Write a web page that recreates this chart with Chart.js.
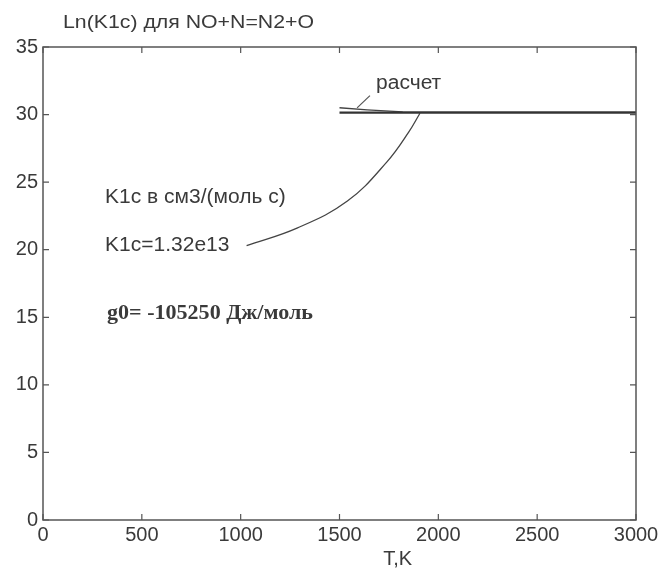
<!DOCTYPE html>
<html>
<head>
<meta charset="utf-8">
<script src="https://cdn.jsdelivr.net/npm/chart.js@4"></script>
<style>
  html, body { margin: 0; padding: 0; background: #fff; }
  #wrap { width: 663px; height: 569px; }
</style>
</head>
<body>
<div id="wrap"><canvas id="main-chart" width="663" height="569"></canvas></div>
<script>
(function () {
  "use strict";

  // axis ticks
  const xTicks = [0, 500, 1000, 1500, 2000, 2500, 3000];
  const yTicks = [0, 5, 10, 15, 20, 25, 30, 35];

  // Ln(K1c) constant level, fitted
  const fitT = [1500, 3000];
  const fitLn = [30.15, 30.15];

  // "расчет" curve (starts a bit higher, merges into the level)
  const calcT = [1500, 1640, 1820, 2200, 3000];
  const calcLn = [30.5, 30.35, 30.2, 30.17, 30.17];

  // pointer lines for the labels
  const ptrCalcT = [1589, 1654];
  const ptrCalcLn = [30.5, 31.4];
  const ptrK1cT = [1030, 1285, 1540, 1740, 1850, 1907];
  const ptrK1cLn = [20.3, 21.6, 23.6, 26.5, 28.7, 30.1];

  const SANS = "'Liberation Sans', Arial, sans-serif";

  // text labels placed in data coordinates
  const notes = [
    { t: 1685, v: 32.3, text: "расчет", font: "20px " + SANS },
    { t: 314, v: 23.9, text: "K1c в см3/(моль с)", font: "20px " + SANS },
    { t: 314, v: 20.3, text: "K1c=1.32e13", font: "20px " + SANS },
    { t: 324, v: 15.3, text: "g0= -105250 Дж/моль", font: "bold 21px 'Liberation Serif', 'Times New Roman', serif" },
  ];

  function pts(xs, ys) {
    return xs.map(function (x, i) {
      return { x: x, y: ys[i] };
    });
  }

  const INK = "#3a3a3a";

  // draw stretched text (reference glyphs are wider than normal)
  function wideText(ctx, text, x, y, sx) {
    ctx.save();
    ctx.translate(x, y);
    ctx.scale(sx, 1);
    ctx.fillText(text, 0, 0);
    ctx.restore();
  }

  const boxPlugin = {
    id: "box",
    afterDraw: function (c) {
      const ctx = c.ctx;
      const a = c.chartArea;
      const xs = c.scales.x;
      const ys = c.scales.y;
      ctx.save();
      ctx.strokeStyle = "#555";
      ctx.lineWidth = 1.5;
      ctx.strokeRect(a.left, a.top, a.right - a.left, a.bottom - a.top);
      ctx.lineWidth = 1.2;
      ctx.beginPath();
      xTicks.forEach(function (t) {
        const px = xs.getPixelForValue(t);
        ctx.moveTo(px, a.bottom);
        ctx.lineTo(px, a.bottom - 6);
        ctx.moveTo(px, a.top);
        ctx.lineTo(px, a.top + 6);
      });
      yTicks.forEach(function (t) {
        const py = ys.getPixelForValue(t);
        ctx.moveTo(a.left, py);
        ctx.lineTo(a.left + 6, py);
        ctx.moveTo(a.right, py);
        ctx.lineTo(a.right - 6, py);
      });
      ctx.stroke();

      // annotations
      ctx.fillStyle = INK;
      ctx.textBaseline = "middle";
      ctx.textAlign = "left";
      notes.forEach(function (n) {
        ctx.font = n.font;
        wideText(ctx, n.text, xs.getPixelForValue(n.t), ys.getPixelForValue(n.v), 1.05);
      });

      // title and x-axis label
      ctx.font = "19px " + SANS;
      wideText(ctx, "Ln(K1c) для NO+N=N2+O", 63, 23, 1.12);
      ctx.textAlign = "center";
      ctx.font = "20px " + SANS;
      ctx.fillText("T,K", xs.getPixelForValue(1794), 559);
      ctx.restore();
    },
  };

  const ctx = document.getElementById("main-chart").getContext("2d");
  new Chart(ctx, {
    type: "line",
    data: {
      datasets: [
        {
          label: "fit",
          data: pts(fitT, fitLn),
          borderColor: "#333",
          borderWidth: 2.2,
          pointRadius: 0,
        },
        {
          label: "расчет",
          data: pts(calcT, calcLn),
          borderColor: "#444",
          borderWidth: 1.4,
          pointRadius: 0,
        },
        {
          label: "ptr1",
          data: pts(ptrCalcT, ptrCalcLn),
          borderColor: "#555",
          borderWidth: 1.2,
          pointRadius: 0,
        },
        {
          label: "ptr2",
          data: pts(ptrK1cT, ptrK1cLn),
          borderColor: "#444",
          borderWidth: 1.3,
          pointRadius: 0,
          tension: 0.4,
        },
      ],
    },
    options: {
      responsive: false,
      animation: false,
      events: [],
      layout: { padding: { top: 47, right: 27, left: 0, bottom: 0 } },
      plugins: {
        legend: { display: false },
        tooltip: { enabled: false },
        title: { display: false },
      },
      scales: {
        x: {
          type: "linear",
          min: 0,
          max: 3000,
          afterFit: function (s) { s.height = 49; },
          afterBuildTicks: function (s) {
            s.ticks = xTicks.map(function (v) { return { value: v }; });
          },
          grid: { display: false, drawTicks: false },
          border: { display: false },
          ticks: {
            padding: 3,
            color: INK,
            font: { family: SANS, size: 20 },
            maxRotation: 0,
            autoSkip: false,
            callback: function (v) { return String(v); },
          },
        },
        y: {
          type: "linear",
          min: 0,
          max: 35,
          afterFit: function (s) { s.width = 43; },
          afterBuildTicks: function (s) {
            s.ticks = yTicks.map(function (v) { return { value: v }; });
          },
          grid: { display: false, drawTicks: false },
          border: { display: false },
          ticks: {
            padding: 5,
            color: INK,
            font: { family: SANS, size: 20 },
            autoSkip: false,
            callback: function (v) { return String(v); },
          },
        },
      },
    },
    plugins: [boxPlugin],
  });
})();
</script>
</body>
</html>
